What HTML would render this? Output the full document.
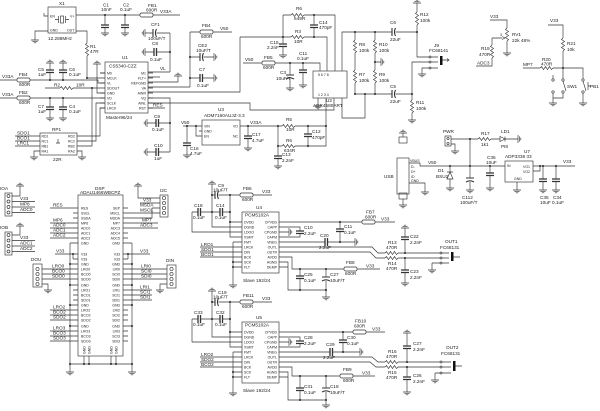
<!DOCTYPE html>
<html><head><meta charset="utf-8">
<style>
html,body{margin:0;padding:0;background:#fff;width:600px;height:411px;overflow:hidden}
svg{display:block}
text{font-family:"Liberation Sans",sans-serif;font-size:4.7px;fill:#222}
.s{font-size:3.5px}
.w{fill:none;stroke:#333;stroke-width:0.65}
</style></head><body>
<svg width="600" height="411" viewBox="0 0 600 411" xmlns="http://www.w3.org/2000/svg">
<defs>
<path id="gd" d="M-4,0H4M-2.6,1.4H2.6M-1.2,2.8H1.2"/>
<path id="gu" d="M-4,0H4M-2.6,-1.4H2.6M-1.2,-2.8H1.2"/>
<path id="gl" d="M0,-4V4M-1.4,-2.6V2.6M-2.8,-1.2V1.2"/>
<path id="gr" d="M0,-4V4M1.4,-2.6V2.6M2.8,-1.2V1.2"/>
<path id="rh" d="M0,0l1.5,-1.5l2,3l2,-3l2,3l2,-3l2,3l1.5,-1.5"/>
<path id="rv" d="M0,0l-1.5,1.5l3,2l-3,2l3,2l-3,2l3,2l-1.5,1.5"/>
<path id="cv" d="M-4,0H4M-4,2.5H4" stroke-width="1.3"/>
<path id="ch" d="M0,-4V4M2.5,-4V4" stroke-width="1.3"/>
<path id="ev" d="M-4,0H4M-4,4Q0,1.6 4,4" stroke-width="1.1"/>
<path id="eh" d="M0,-4V4M3.5,-4Q1.4,0 3.5,4" stroke-width="1.1"/>
<rect id="fb" x="0" y="-2" width="13" height="4" rx="1.5"/>
<circle id="d" r="1" fill="#222" stroke="none"/>
</defs>

<g class="w">
<!-- X1 -->
<rect x="48" y="7" width="28" height="26"/>
<rect x="60.5" y="16" width="3" height="7"/>
<path d="M58.5,16V23M65.5,16V23M55,19.5H58.5M65.5,19.5H69"/>
<path d="M44,13V16H48M48,31H35V40M76,15H140M153,15H180M105,15V25M105,27.5V33M125,15V25M125,27.5V33M76,31H87V43M87,56V78H105"/>
<use href="#gd" x="35" y="40"/><use href="#gd" x="105" y="33"/><use href="#gd" x="125" y="33"/>
<use href="#fb" x="140" y="15"/><use href="#rv" x="87" y="43"/><use href="#cv" x="105" y="25"/><use href="#cv" x="125" y="25"/>
<use href="#d" x="105" y="15"/><use href="#d" x="125" y="15"/>
<!-- CF1 C8 -->
<path d="M145,33H153M156.5,33H170M145,52H154M156.5,52H170M170,33V72M148,72H170"/>
<use href="#eh" x="153" y="33"/><use href="#gl" x="145" y="33"/><use href="#ch" x="154" y="52"/><use href="#gl" x="145" y="52"/><use href="#d" x="170" y="52"/>
<!-- U1 -->
<rect x="105" y="62" width="43" height="51"/>
<path d="M100,73H105M100,83H105M100,93H105M100,98H105M100,103H105M100,108H105M148,73H153M148,78H153M148,83H153M148,88H153M148,93H153M148,98H153M148,103H153M148,108H153"/>
<path d="M148,77H160M148,82H178V76M148,87H190M148,92H240V37M148,98H170V152M148,103H250V110H334V98M148,108H165"/>
<use href="#gu" x="178" y="76"/>
<path d="M147,123H156M158.5,123H170M147,152H156M158.5,152H170"/>
<use href="#ch" x="156" y="123"/><use href="#gl" x="147" y="123"/><use href="#ch" x="156" y="152"/><use href="#gl" x="147" y="152"/><use href="#d" x="170" y="123"/>
<path d="M190,32V87M190,32H200M213,32H232M190,57H200M203.5,57H214M190,78H200M202.5,78H214"/>
<use href="#fb" x="200" y="32"/><use href="#eh" x="200" y="57"/><use href="#gr" x="214" y="57"/><use href="#ch" x="200" y="78"/><use href="#gr" x="214" y="78"/>
<use href="#d" x="190" y="57"/><use href="#d" x="190" y="78"/>
<!-- left of U1 -->
<path d="M0,80H17M30,80H98V83H105M0,98H17M30,98H105M50,63V70M50,72.5V80M63,63V70M63,72.5V80M50,98V107M50,109.5V118M63,98V107M63,109.5V118M45,88H60M73,88H105M97,64V93H105M100,73H105M77,136H100V108H105M77,141H96V103H105M77,146H92V88"/>
<use href="#fb" x="17" y="80"/><use href="#fb" x="17" y="98"/>
<use href="#cv" x="50" y="70"/><use href="#cv" x="63" y="70"/><use href="#gu" x="50" y="63"/><use href="#gu" x="63" y="63"/>
<use href="#cv" x="50" y="107"/><use href="#cv" x="63" y="107"/><use href="#gd" x="50" y="118"/><use href="#gd" x="63" y="118"/>
<use href="#rh" x="60" y="88"/><use href="#gu" x="97" y="64"/>
<use href="#d" x="50" y="80"/><use href="#d" x="63" y="80"/><use href="#d" x="50" y="98"/><use href="#d" x="63" y="98"/><use href="#d" x="87" y="78"/><use href="#d" x="92" y="88"/>
<!-- RP1 -->
<rect x="40" y="133" width="37" height="22"/>
<path d="M15,136H40M15,141H40M15,146H40M40,151H34V157M77,151H82V157M58,139V143M56,143H60"/>
<use href="#gd" x="34" y="157"/><use href="#gd" x="82" y="157"/>

<!-- U2 region -->
<path d="M283,15H291M304,15H335V71M283,15V37M314,15V25M314,27.5V37M240,37H291M304,37H327V71M283,37V44M283,46.5V55"/>
<use href="#rh" x="291" y="15"/><use href="#rh" x="291" y="37"/><use href="#cv" x="314" y="25"/><use href="#cv" x="283" y="44"/><use href="#gd" x="283" y="55"/>
<use href="#d" x="283" y="37"/><use href="#d" x="314" y="37"/><use href="#d" x="314" y="15"/>
<path d="M243,63H262M275,63H320V71M290,63V75M290,79V88M303,63V70M303,72.5V85"/>
<use href="#fb" x="262" y="63"/><use href="#ev" x="290" y="75"/><use href="#gd" x="290" y="88"/><use href="#cv" x="303" y="70"/><use href="#gd" x="303" y="85"/>
<use href="#d" x="290" y="63"/><use href="#d" x="303" y="63"/>
<rect x="313" y="71" width="34" height="27"/>
<path d="M342,71V32H392M395.5,32H417M355,32V40M355,53V70M355,83V94M375,32V40M375,53V70M375,83V94M375,62H381M318,98V106M326,98V126M342,98V118H365V94M355,94H392M395.5,94H412"/>
<use href="#eh" x="392" y="32"/><use href="#eh" x="392" y="94"/>
<use href="#rv" x="355" y="40"/><use href="#rv" x="355" y="70"/><use href="#rv" x="375" y="40"/><use href="#rv" x="375" y="70"/>
<use href="#gr" x="381" y="62"/><use href="#gd" x="318" y="106"/>
<use href="#d" x="355" y="32"/><use href="#d" x="375" y="32"/><use href="#d" x="355" y="94"/><use href="#d" x="375" y="94"/><use href="#d" x="375" y="62"/><use href="#d" x="365" y="94"/>
<!-- R12 J9 R11 -->
<path d="M417,3V12M417,25V57H429M412,94V62H429M412,94V100M412,113V120M429,68H422V74"/>
<use href="#gu" x="417" y="3"/><use href="#rv" x="417" y="12"/><use href="#rv" x="412" y="100"/><use href="#gd" x="412" y="120"/><use href="#gd" x="422" y="74"/>
<use href="#d" x="417" y="32"/><use href="#d" x="412" y="94"/>
<circle cx="430" cy="57" r="1"/><circle cx="430" cy="62" r="1"/><circle cx="430" cy="68" r="1"/>
<path d="M431,57H438M431,62H438M431,68H438M442.5,60H449M447,58.5L449,60L447,61.5"/>
<!-- RV1 R19 -->
<path d="M490,20H507V28M507,41V53M492,38H502M502,36.5L505,38L502,39.5M492,38V45M492,58V66H476"/>
<use href="#rv" x="507" y="28"/><use href="#gd" x="507" y="53"/><use href="#rv" x="492" y="45"/>
<!-- R21 R20 SW1 PB1 -->
<path d="M548,25H563V38M563,51V78.8M523,68H540M553,68H583V78.8M553,93.2V103M583,93.2V103M563,93.2V98H553M563,81.2L566,91M583,81.2L586,91M588,82V90M588,86H591M553,78.8V75"/>
<use href="#rv" x="563" y="38"/><use href="#rh" x="540" y="68"/><use href="#gd" x="553" y="103"/><use href="#gd" x="583" y="103"/>
<circle cx="553" cy="80" r="1.2"/><circle cx="563" cy="80" r="1.2"/><circle cx="553" cy="92" r="1.2"/><circle cx="563" cy="92" r="1.2"/><circle cx="583" cy="80" r="1.2"/><circle cx="583" cy="92" r="1.2"/>
<use href="#d" x="563" y="68"/>

<!-- Power -->
<rect x="445" y="136" width="6" height="10"/><circle cx="448" cy="138.5" r="1.1"/><circle cx="448" cy="143.5" r="1.1"/>
<path d="M451,139H478M491,139H500M505,136.5V141.5M505,139H518M451,144H455V151M470,139V166M420,166H505"/>
<path d="M500,136.5L500,141.5L505,139Z"/>
<use href="#rh" x="478" y="139"/><use href="#gr" x="518" y="139"/><use href="#gd" x="455" y="151"/>
<use href="#d" x="470" y="139"/><use href="#d" x="450" y="166"/><use href="#d" x="470" y="166"/><use href="#d" x="490" y="166"/>
<path d="M450,166V172M447,172H453M447,179L453,179L450,172ZM450,179V188M470,166V178M470,182V190M490,166V173M490,175.5V188"/>
<use href="#gd" x="450" y="188"/><use href="#ev" x="470" y="178"/><use href="#gd" x="470" y="190"/><use href="#cv" x="490" y="173"/><use href="#gd" x="490" y="188"/>
<rect x="505" y="161" width="28" height="21"/>
<path d="M517,182V190M533,166H575M533,171H540V166M543,166V179M543,181.5V190M556,166V179M556,181.5V190"/>
<use href="#gd" x="517" y="190"/><use href="#cv" x="543" y="179"/><use href="#gd" x="543" y="190"/><use href="#cv" x="556" y="179"/><use href="#gd" x="556" y="190"/>
<use href="#d" x="543" y="166"/><use href="#d" x="556" y="166"/><use href="#d" x="540" y="166"/>
<!-- USB -->
<rect x="397" y="158" width="12" height="36"/>
<path d="M409,163H420V166M409,183H425V192M403,133V137M403,199V205"/>
<rect x="399" y="137" width="8" height="6"/><rect x="399" y="193" width="8" height="6"/>
<use href="#gd" x="425" y="192"/><use href="#gu" x="403" y="133"/><use href="#gd" x="403" y="205"/>
<!-- OUT1 -->
<path d="M405,228V237M405,239.5V253M400,253H440M400,258H440M405,258V270M405,272.5V283M432,263H440M432,263V270M442,253H449M442,258H449M442,263H449M453.5,257H460"/>
<use href="#gu" x="405" y="228"/><use href="#cv" x="405" y="237"/><use href="#cv" x="405" y="270"/><use href="#gd" x="405" y="283"/><use href="#gd" x="432" y="270"/>
<use href="#d" x="405" y="253"/><use href="#d" x="405" y="258"/>
<circle cx="441" cy="253" r="1"/><circle cx="441" cy="258" r="1"/><circle cx="441" cy="263" r="1"/>

<!-- U4 -->
<rect x="242" y="212" width="37" height="61"/>
<path d="M236,222H242M236,227H242M236,232H242M236,237H242M236,242H242M236,247H242M236,252H242M236,257H242M236,262H242M236,267H242M279,222H285M279,227H285M279,232H285M279,237H285M279,242H285M279,247H285M279,252H285M279,257H285M279,262H285M279,267H285"/>
<path d="M212,184V227H236M212,195H215M218.5,195H240M253,195H272M230,195V237H236M230,222H236M212,212H220M222.5,212H230M192,212V232H236M192,212H198M200.5,212H212M233,242H236M233,242V285M233,262H236M233,267H236M200,247H236M200,252H236M200,257H236"/>
<use href="#gu" x="212" y="184"/><use href="#eh" x="215" y="195"/><use href="#fb" x="240" y="195"/><use href="#ch" x="220" y="212"/><use href="#ch" x="198" y="212"/><use href="#gd" x="233" y="285"/>
<use href="#d" x="230" y="195"/><use href="#d" x="212" y="195"/><use href="#d" x="212" y="212"/><use href="#d" x="230" y="212"/><use href="#d" x="230" y="222"/><use href="#d" x="233" y="262"/><use href="#d" x="233" y="267"/>
<path d="M285,222H362M375,222H395M340,222V229M340,231.5V242M285,227H300V231M300,233.5V237H285M285,232H289M285,242H325M327.5,242H355M285,247H372L378,253H385M398,253H400M285,252H370L376,258H385M398,258H400M285,257H292V269H344M357,269H380M285,262H288V290H326M285,267H288M300,269V276M300,278.5V290M326,269V277M326,281V297"/>
<use href="#fb" x="362" y="222"/><use href="#cv" x="340" y="229"/><use href="#cv" x="300" y="231"/><use href="#gr" x="289" y="232"/><use href="#ch" x="325" y="242"/><use href="#gr" x="355" y="242"/>
<use href="#rh" x="385" y="253"/><use href="#rh" x="385" y="258"/><use href="#fb" x="344" y="269"/><use href="#cv" x="300" y="276"/><use href="#ev" x="326" y="277"/><use href="#gd" x="326" y="297"/>
<use href="#d" x="340" y="222"/><use href="#d" x="340" y="242"/><use href="#d" x="300" y="269"/><use href="#d" x="326" y="269"/><use href="#d" x="300" y="290"/><use href="#d" x="326" y="290"/>

<!-- U5 -->
<rect x="242" y="322" width="37" height="61"/>
<path d="M236,332H242M236,337H242M236,342H242M236,347H242M236,352H242M236,357H242M236,362H242M236,367H242M236,372H242M236,377H242M279,332H285M279,337H285M279,342H285M279,347H285M279,352H285M279,357H285M279,362H285M279,367H285M279,372H285M279,377H285"/>
<path d="M212,291V337H236M212,302H215M218.5,302H240M253,302H272M230,302V347H236M230,332H236M212,319H220M222.5,319H230M192,319V342H236M192,319H198M200.5,319H212M233,352H236M233,352V393M233,372H236M233,377H236M200,357H236M200,362H236M200,367H236"/>
<use href="#gu" x="212" y="291"/><use href="#eh" x="215" y="302"/><use href="#fb" x="240" y="302"/><use href="#ch" x="220" y="319"/><use href="#ch" x="198" y="319"/><use href="#gd" x="233" y="393"/>
<use href="#d" x="230" y="302"/><use href="#d" x="212" y="302"/><use href="#d" x="212" y="319"/><use href="#d" x="230" y="319"/><use href="#d" x="230" y="332"/><use href="#d" x="233" y="372"/><use href="#d" x="233" y="377"/>
<path d="M285,332H353M366,332H385M343,332V340M343,342.5V352M285,337H300V341M300,343.5V347H285M285,342H289M285,352H330M332.5,352H360M285,357H372L378,362H385M398,362H440M285,362H370L376,367H385M398,367H440M285,367H292V376H340M353,376H375M285,372H288V400H326M285,377H288M300,376V388M300,390.5V400M326,376V388M326,392V405"/>
<use href="#fb" x="353" y="332"/><use href="#cv" x="343" y="340"/><use href="#cv" x="300" y="341"/><use href="#gr" x="289" y="342"/><use href="#ch" x="330" y="352"/><use href="#gr" x="360" y="352"/>
<use href="#rh" x="385" y="362"/><use href="#rh" x="385" y="367"/><use href="#fb" x="340" y="376"/><use href="#cv" x="300" y="388"/><use href="#ev" x="326" y="388"/><use href="#gd" x="326" y="405"/>
<use href="#d" x="343" y="332"/><use href="#d" x="343" y="352"/><use href="#d" x="300" y="376"/><use href="#d" x="326" y="376"/><use href="#d" x="300" y="400"/><use href="#d" x="326" y="400"/>
<!-- OUT2 -->
<path d="M407,333V346M407,348.5V362M407,367V377M407,379.5V392M435,373H440M435,373V380M442,362H451M442,367H451M442,373H451M455.5,366H462"/>
<use href="#gu" x="407" y="333"/><use href="#cv" x="407" y="346"/><use href="#cv" x="407" y="377"/><use href="#gd" x="407" y="392"/><use href="#gd" x="435" y="380"/>
<use href="#d" x="407" y="362"/><use href="#d" x="407" y="367"/>
<circle cx="441" cy="362" r="1"/><circle cx="441" cy="367" r="1"/><circle cx="441" cy="373" r="1"/>

<!-- U3 -->
<rect x="202" y="120" width="38" height="25"/>
<path d="M183,126H202M187,126V143M187,145.5V155M196,126V136H202M199,131H202M240,126H282M295,126H326M248,126V136M248,138.5V148M308,126V134M308,136.5V146M278,126V156M278,158.5V166M278,146H282M295,146H326V126"/>
<use href="#cv" x="187" y="143"/><use href="#gd" x="187" y="155"/><use href="#rh" x="282" y="126"/><use href="#cv" x="248" y="136"/><use href="#gd" x="248" y="148"/>
<use href="#cv" x="308" y="134"/><use href="#cv" x="278" y="156"/><use href="#gd" x="278" y="166"/><use href="#rh" x="282" y="146"/>
<use href="#d" x="187" y="126"/><use href="#d" x="196" y="126"/><use href="#d" x="248" y="126"/><use href="#d" x="308" y="126"/><use href="#d" x="278" y="126"/><use href="#d" x="278" y="146"/><use href="#d" x="308" y="146"/><use href="#d" x="326" y="126"/>

<!-- DSP -->
<rect x="78" y="195" width="45" height="161"/>
<path d="M73,208H78M73,213H78M73,218H78M73,223H78M73,228H78M73,233H78M73,238H78M70,243H78M73,254H78M73,259H78M70,264H78M73,269H78M73,274H78M73,279H78M70,285H78M73,290H78M73,295H78M73,300H78M70,305H78M73,310H78M73,315H78M73,320H78M70,326H78M73,331H78M73,336H78M73,341H78"/>
<path d="M123,208H128M123,213H128M123,218H128M123,223H128M123,228H128M123,233H128M123,238H128M123,243H132M123,254H128M123,259H128M123,264H132M123,269H128M123,274H128M123,279H128M123,285H132M123,290H128M123,295H128M123,300H128M123,305H132M123,310H128M123,315H128M123,320H128M123,326H132M123,331H128M123,336H128M123,341H128"/>
<path d="M70,243V372M132,243V372M84,356V364M89,356V364M111,356V364M116,356V364M70,364H132M55,254H73M73,254V259M128,254H150M128,254V259"/>
<use href="#gd" x="70" y="372"/><use href="#gd" x="132" y="372"/>
<use href="#d" x="70" y="264"/><use href="#d" x="70" y="285"/><use href="#d" x="70" y="305"/><use href="#d" x="70" y="326"/><use href="#d" x="70" y="364"/><use href="#d" x="84" y="364"/><use href="#d" x="89" y="364"/><use href="#d" x="111" y="364"/><use href="#d" x="116" y="364"/><use href="#d" x="132" y="364"/>
<use href="#d" x="132" y="264"/><use href="#d" x="132" y="285"/><use href="#d" x="132" y="305"/><use href="#d" x="132" y="326"/><use href="#d" x="73" y="254"/><use href="#d" x="128" y="254"/>
<path d="M50,208H73M50,223H73M50,228H73M50,233H73M50,238H73M50,310H73M50,315H73M50,320H73M50,331H73M50,336H73M50,341H73M42,269H73M42,274H73M42,279H73M42,284H48V290"/>
<use href="#gd" x="48" y="290"/>
<rect x="33" y="264" width="9" height="23"/><circle cx="37.5" cy="269" r="1.6"/><circle cx="37.5" cy="274" r="1.6"/><circle cx="37.5" cy="279" r="1.6"/><circle cx="37.5" cy="284" r="1.6"/>
<!-- I2C -->
<rect x="160" y="195" width="8" height="22"/><circle cx="164" cy="198" r="1.6"/><circle cx="164" cy="203" r="1.6"/><circle cx="164" cy="208" r="1.6"/><circle cx="164" cy="213" r="1.6"/>
<path d="M138,186V198H160M140,203H160M128,218H152V208H160M128,213H160M128,223H158M128,228H158"/>
<use href="#gu" x="138" y="186"/>
<!-- DIN -->
<rect x="167" y="265" width="9" height="23"/><circle cx="171.5" cy="269" r="1.6"/><circle cx="171.5" cy="274" r="1.6"/><circle cx="171.5" cy="279" r="1.6"/><circle cx="171.5" cy="284" r="1.6"/>
<path d="M128,269H167M128,274H167M128,279H167M167,284H160V290M128,290H152M128,295H152M128,300H152"/>
<use href="#gd" x="160" y="290"/>
<!-- IOA IOB -->
<rect x="5" y="193" width="7" height="23"/><circle cx="8.5" cy="196" r="1.5"/><circle cx="8.5" cy="201.5" r="1.5"/><circle cx="8.5" cy="207" r="1.5"/><circle cx="8.5" cy="212.5" r="1.5"/>
<path d="M20,186V196H12M12,201.5H35M12,207H35M12,212.5H35"/>
<use href="#gu" x="20" y="186"/>
<rect x="5" y="232" width="7" height="23"/><circle cx="8.5" cy="235" r="1.5"/><circle cx="8.5" cy="240.5" r="1.5"/><circle cx="8.5" cy="246" r="1.5"/><circle cx="8.5" cy="251.5" r="1.5"/>
<path d="M20,226V235H12M12,240.5H35M12,246H35M12,251.5H35"/>
<use href="#gu" x="20" y="226"/>
</g>
<g fill="#111"><rect x="440" y="56" width="2.5" height="9"/><rect x="451" y="252" width="2.5" height="9"/><rect x="453" y="361" width="2.5" height="10"/></g>

<g>
<text x="59" y="5">X1</text><text x="50" y="17.5" class="s">EN</text><text x="70" y="17.5" class="s">V+</text><text x="50" y="31.5" class="s">GND</text><text x="67" y="31.5" class="s">OUT</text>
<text x="48" y="40">12.288MHz</text><text x="103" y="6.5">C1</text><text x="101" y="11">10nF</text><text x="123" y="6.5">C2</text><text x="120" y="11">0.1uF</text>
<text x="148" y="7">FB1</text><text x="146" y="11.5">600R</text><text x="160" y="13">V33A</text><text x="90" y="48">R1</text><text x="90" y="53">47R</text>
<text x="151" y="26">CF1</text><text x="148" y="40">100uF/T</text><text x="152" y="45">C8</text><text x="150" y="61">0.1uF</text><text x="160" y="70">VL</text>
<text x="122" y="59">U1</text><text x="109" y="67.5">CS5340-CZZ</text>
<text x="107" y="74.5" class="s">M0</text><text x="107" y="79.5" class="s">MCLK</text><text x="107" y="84.5" class="s">VL</text><text x="107" y="89.5" class="s">SDOUT</text><text x="107" y="94.5" class="s">GND</text><text x="107" y="99.5" class="s">VD</text><text x="107" y="104.5" class="s">SCLK</text><text x="107" y="109.5" class="s">LRCK</text>
<g text-anchor="end"><text x="146" y="74.5" class="s">M1</text><text x="146" y="79.5" class="s">FLT+</text><text x="146" y="84.5" class="s">REFGND</text><text x="146" y="89.5" class="s">VA</text><text x="146" y="94.5" class="s">AINR</text><text x="146" y="99.5" class="s">VQ</text><text x="146" y="104.5" class="s">AINL</text><text x="146" y="109.5" class="s">RST</text></g>
<text x="106" y="119">Master96/24</text><text x="153" y="106.5">RES</text>
<text x="154" y="118">C9</text><text x="152" y="131">0.1uF</text><text x="154" y="147">C10</text><text x="154" y="160">1uF</text>
<text x="202" y="27">FB4</text><text x="201" y="38">600R</text><text x="220" y="30">V50</text><text x="198" y="47">CE2</text><text x="196" y="52">10uF/T</text><text x="199" y="71">C7</text><text x="197" y="87">0.1uF</text>
<text x="2" y="78">V33A</text><text x="19" y="76">FB4</text><text x="19" y="86">600R</text><text x="2" y="96">V33A</text><text x="19" y="94">FB2</text><text x="19" y="104">600R</text>
<text x="38" y="71">C5</text><text x="38" y="76">1uF</text><text x="69" y="71">C6</text><text x="69" y="76">0.1uF</text><text x="38" y="108">C7</text><text x="38" y="113">1uF</text><text x="69" y="108">C4</text><text x="69" y="113">0.1uF</text>
<text x="54" y="86.5">R2</text><text x="76" y="86.5">10R</text>
<text x="52" y="131">RP1</text><text x="53" y="161">22R</text><text x="17" y="134.5">SDO1</text><text x="17" y="139.5">BCO1</text><text x="17" y="144.5">LRC1</text>
<text x="41.5" y="137.5" class="s">RD1</text><text x="41.5" y="142.5" class="s">RC1</text><text x="41.5" y="147.5" class="s">RB1</text><text x="41.5" y="152.5" class="s">RA1</text>
<text x="68" y="137.5" class="s">RD2</text><text x="68" y="142.5" class="s">RC2</text><text x="68" y="147.5" class="s">RB2</text><text x="68" y="152.5" class="s">RA2</text>

<text x="296" y="10">R6</text><text x="294" y="20">649R</text><text x="319" y="24">C14</text><text x="319" y="29">470pF</text><text x="295" y="33">R3</text><text x="294" y="43">10R</text>
<text x="270" y="44">C15</text><text x="267" y="49">2.2nF</text><text x="245" y="61">V50</text><text x="264" y="59">FB5</text><text x="263" y="69">600R</text>
<text x="280" y="74">C3</text><text x="276" y="80">10uF/T</text><text x="299" y="55">C11</text><text x="297" y="60">0.1uF</text>
<text x="318" y="76" class="s">5  6  7  8</text><text x="318" y="96" class="s">1  2  3  4</text>
<text x="326" y="102">U2</text><text x="313" y="107">ADR4580ART</text>
<text x="359" y="46">R8</text><text x="359" y="52">100k</text><text x="379" y="46">R10</text><text x="379" y="52">100k</text><text x="359" y="76">R7</text><text x="359" y="82">100k</text><text x="379" y="76">R9</text><text x="379" y="82">100k</text>
<text x="390" y="24">C6</text><text x="390" y="41">22uF</text><text x="390" y="88">C5</text><text x="390" y="103">22uF</text>
<text x="420" y="16">R12</text><text x="420" y="22">100k</text><text x="434" y="47">J9</text><text x="429" y="52">FC68141</text><text x="416" y="104">R11</text><text x="416" y="110">100k</text>
<text x="490" y="18">V33</text><text x="512" y="36">RV1</text><text x="512" y="42">22k 48%</text><text x="500" y="36" class="s">3</text><text x="481" y="50">R19</text><text x="479" y="56">470R</text><text x="477" y="64.5">ADC3</text>
<text x="550" y="22">V33</text><text x="567" y="45">R21</text><text x="567" y="51">10k</text><text x="523" y="66">MP7</text><text x="542" y="61">R20</text><text x="541" y="65.5">470R</text><text x="567" y="88">SW1</text><text x="590" y="88">PB1</text>

<text x="443" y="133">PWR</text><text x="481" y="135">R17</text><text x="481" y="146">1k1</text><text x="501" y="133">LD1</text><text x="501" y="148">PI8</text>
<text x="428" y="164">V50</text><text x="438" y="172">D1</text><text x="436" y="178">BSU2</text><text x="462" y="199">C112</text><text x="460" y="204">100uF/T</text><text x="487" y="159">C36</text><text x="486" y="164">10uF</text>
<text x="524" y="153">U7</text><text x="505" y="158">ADP3338 33</text><text x="507" y="167" class="s">IN</text><text x="523" y="168" class="s">VO1</text><text x="523" y="173" class="s">VO2</text><text x="514" y="180" class="s">GND</text>
<text x="563" y="163">V33</text><text x="540" y="199">C35</text><text x="540" y="204">10uF</text><text x="553" y="199">C34</text><text x="552" y="204">0.1uF</text>
<text x="384" y="178">USB</text><text x="410" y="162" class="s">VBUS</text><text x="411" y="168" class="s">D-</text><text x="411" y="173" class="s">D+</text><text x="411" y="178" class="s">ID</text><text x="411" y="182" class="s">GND</text>
<text x="410" y="238">C22</text><text x="410" y="244">2.2nF</text><text x="445" y="243">OUT1</text><text x="440" y="249">FC68131</text><text x="410" y="273">C23</text><text x="410" y="279">2.2nF</text>

<text x="256" y="209">U4</text><text x="245" y="216.5">PCM5102A</text><text x="243" y="282">Slave 192/24</text>
<g><text x="244" y="223.5" class="s">DVDD</text><text x="244" y="228.5" class="s">DGND</text><text x="244" y="233.5" class="s">LDOO</text><text x="244" y="238.5" class="s">XSMT</text><text x="244" y="243.5" class="s">FMT</text><text x="244" y="248.5" class="s">LRCK</text><text x="244" y="253.5" class="s">DIN</text><text x="244" y="258.5" class="s">BCK</text><text x="244" y="263.5" class="s">SCK</text><text x="244" y="268.5" class="s">FLT</text></g>
<g text-anchor="end"><text x="277" y="223.5" class="s">CPVDD</text><text x="277" y="228.5" class="s">CAPP</text><text x="277" y="233.5" class="s">CPGND</text><text x="277" y="238.5" class="s">CAPM</text><text x="277" y="243.5" class="s">VNEG</text><text x="277" y="248.5" class="s">OUTL</text><text x="277" y="253.5" class="s">OUTR</text><text x="277" y="258.5" class="s">AVDD</text><text x="277" y="263.5" class="s">AGND</text><text x="277" y="268.5" class="s">DEMP</text></g>
<text x="218" y="187">C9</text><text x="213" y="191.5">10uF/T</text><text x="243" y="190">FB6</text><text x="242" y="201">600R</text><text x="262" y="193">V33</text>
<text x="216" y="207">C14</text><text x="215" y="219">0.1uF</text><text x="194" y="207">C18</text><text x="193" y="219">0.1uF</text>
<text x="201" y="246">LRO1</text><text x="201" y="251">SDO1</text><text x="201" y="256">BCO1</text>
<text x="366" y="213.5">FB7</text><text x="365" y="218.5">600R</text><text x="381" y="220.5">V33</text><text x="304" y="229">C10</text><text x="304" y="235">2.2uF</text>
<text x="344" y="228">C11</text><text x="344" y="234">0.1uF</text><text x="320" y="237">C20</text><text x="319" y="249">2.2uF</text>
<text x="388" y="244">R13</text><text x="386" y="249">470R</text><text x="388" y="265">R14</text><text x="386" y="270">470R</text>
<text x="346" y="264">FB8</text><text x="345" y="275">600R</text><text x="366" y="267.5">V33</text><text x="304" y="276">C25</text><text x="304" y="282">0.1uF</text><text x="330" y="276">C27</text><text x="330" y="282">10uF/T</text>

<text x="256" y="319">U5</text><text x="245" y="326.5">PCM5102A</text><text x="243" y="392">Slave 192/24</text>
<g><text x="244" y="333.5" class="s">DVDD</text><text x="244" y="338.5" class="s">DGND</text><text x="244" y="343.5" class="s">LDOO</text><text x="244" y="348.5" class="s">XSMT</text><text x="244" y="353.5" class="s">FMT</text><text x="244" y="358.5" class="s">LRCK</text><text x="244" y="363.5" class="s">DIN</text><text x="244" y="368.5" class="s">BCK</text><text x="244" y="373.5" class="s">SCK</text><text x="244" y="378.5" class="s">FLT</text></g>
<g text-anchor="end"><text x="277" y="333.5" class="s">CPVDD</text><text x="277" y="338.5" class="s">CAPP</text><text x="277" y="343.5" class="s">CPGND</text><text x="277" y="348.5" class="s">CAPM</text><text x="277" y="353.5" class="s">VNEG</text><text x="277" y="358.5" class="s">OUTL</text><text x="277" y="363.5" class="s">OUTR</text><text x="277" y="368.5" class="s">AVDD</text><text x="277" y="373.5" class="s">AGND</text><text x="277" y="378.5" class="s">DEMP</text></g>
<text x="218" y="294">C19</text><text x="213" y="298.5">10uF/T</text><text x="243" y="297">FB11</text><text x="242" y="308">600R</text><text x="262" y="300">V33</text>
<text x="216" y="314">C32</text><text x="215" y="326">0.1uF</text><text x="194" y="314">C33</text><text x="193" y="326">0.1uF</text>
<text x="201" y="356">LRO2</text><text x="201" y="361">SDO2</text><text x="201" y="366">BCO2</text>
<text x="355" y="322.5">FB10</text><text x="354" y="327.5">600R</text><text x="372" y="330.5">V33</text><text x="304" y="339">C28</text><text x="304" y="345">2.2uF</text>
<text x="347" y="339">C30</text><text x="347" y="345">0.1uF</text><text x="326" y="346">C29</text><text x="323" y="359">2.2uF</text>
<text x="388" y="353">R16</text><text x="386" y="358">470R</text><text x="388" y="374">R15</text><text x="386" y="379">470R</text>
<text x="343" y="371">FB9</text><text x="343" y="382">600R</text><text x="362" y="374.5">V33</text><text x="304" y="388">C31</text><text x="304" y="394">0.1uF</text><text x="330" y="388">C18</text><text x="330" y="394">10uF/T</text>
<text x="413" y="345">C27</text><text x="413" y="351">2.2nF</text><text x="446" y="349">OUT2</text><text x="441" y="355">FC68131</text><text x="413" y="377">C26</text><text x="413" y="383">2.2nF</text>

<text x="218" y="111">U3</text><text x="204" y="117">ADM7160AUJZ-3.3</text>
<text x="204" y="127.5" class="s">VIN</text><text x="204" y="132.5" class="s">GND</text><text x="204" y="137.5" class="s">EN</text><text x="238" y="127.5" class="s" text-anchor="end">VO</text><text x="238" y="137.5" class="s" text-anchor="end">NC</text>
<text x="181" y="124">V50</text><text x="190" y="150">C16</text><text x="190" y="155">4.7uF</text><text x="250" y="124">V33A</text><text x="252" y="136">C17</text><text x="252" y="142">4.7uF</text>
<text x="286" y="121">R5</text><text x="286" y="131">10R</text><text x="312" y="133">C12</text><text x="312" y="139">470pF</text><text x="286" y="142">R6</text><text x="284" y="152">634R</text><text x="282" y="156">C13</text><text x="282" y="162">2.2nF</text>

<text x="95" y="190">DSP</text><text x="80" y="194">ADAU1466WBCPZ</text>
<g><text x="81" y="209.5" class="s">RES</text><text x="81" y="214.5" class="s">SSCL</text><text x="81" y="219.5" class="s">SSDA</text><text x="81" y="224.5" class="s">MP6</text><text x="81" y="229.5" class="s">ADC0</text><text x="81" y="234.5" class="s">ADC1</text><text x="81" y="239.5" class="s">ADC2</text><text x="81" y="244.5" class="s">GND</text>
<text x="81" y="255.5" class="s">V33</text><text x="81" y="260.5" class="s">V33</text><text x="81" y="265.5" class="s">GND</text><text x="81" y="270.5" class="s">LRO0</text><text x="81" y="275.5" class="s">BCO0</text><text x="81" y="280.5" class="s">SDO0</text><text x="81" y="286.5" class="s">GND</text><text x="81" y="291.5" class="s">LRO1</text><text x="81" y="296.5" class="s">BCO1</text><text x="81" y="301.5" class="s">SDO1</text><text x="81" y="306.5" class="s">GND</text><text x="81" y="311.5" class="s">LRO2</text><text x="81" y="316.5" class="s">BCO2</text><text x="81" y="321.5" class="s">SDO2</text><text x="81" y="327.5" class="s">GND</text><text x="81" y="332.5" class="s">LRO3</text><text x="81" y="337.5" class="s">BCO3</text><text x="81" y="342.5" class="s">SDO3</text></g>
<g text-anchor="end"><text x="120" y="209.5" class="s">SEP</text><text x="120" y="214.5" class="s">MSCL</text><text x="120" y="219.5" class="s">MSDA</text><text x="120" y="224.5" class="s">MP7</text><text x="120" y="229.5" class="s">ADC3</text><text x="120" y="234.5" class="s">ADC4</text><text x="120" y="239.5" class="s">ADC5</text><text x="120" y="244.5" class="s">GND</text>
<text x="120" y="255.5" class="s">V33</text><text x="120" y="260.5" class="s">V33</text><text x="120" y="265.5" class="s">GND</text><text x="120" y="270.5" class="s">LRI0</text><text x="120" y="275.5" class="s">SCI0</text><text x="120" y="280.5" class="s">SDI0</text><text x="120" y="286.5" class="s">GND</text><text x="120" y="291.5" class="s">LRI1</text><text x="120" y="296.5" class="s">SCI1</text><text x="120" y="301.5" class="s">SDI1</text><text x="120" y="306.5" class="s">GND</text><text x="120" y="311.5" class="s">LRI2</text><text x="120" y="316.5" class="s">SCI2</text><text x="120" y="321.5" class="s">SDI2</text><text x="120" y="327.5" class="s">GND</text><text x="120" y="332.5" class="s">LRI3</text><text x="120" y="337.5" class="s">SCI3</text><text x="120" y="342.5" class="s">SDI3</text></g>
<text class="s" transform="translate(85.5,354) rotate(-90)">GND</text><text class="s" transform="translate(90.5,354) rotate(-90)">GND</text><text class="s" transform="translate(112.5,354) rotate(-90)">GND</text><text class="s" transform="translate(117.5,354) rotate(-90)">GND</text>
<text x="53" y="206.5">RES</text><text x="53" y="221.5">MP6</text><text x="53" y="226.5">ADC0</text><text x="53" y="231.5">ADC1</text><text x="53" y="236.5">ADC2</text>
<text x="56" y="252.5">V33</text><text x="140" y="252.5">V33</text>
<text x="52" y="267.5">LRO0</text><text x="52" y="272.5">BCO0</text><text x="52" y="277.5">SDO0</text><text x="31" y="261">DOU</text>
<text x="53" y="308.5">LRO2</text><text x="53" y="313.5">BCO2</text><text x="53" y="318.5">SDO2</text><text x="53" y="329.5">LRO3</text><text x="53" y="334.5">BCO3</text><text x="53" y="339.5">SDO3</text>
<text x="160" y="192">I2C</text><text x="143" y="201.5">V33</text><text x="140" y="206.5">MSDA</text><text x="140" y="211.5">MSCL</text><text x="142" y="221.5">MP7</text><text x="140" y="226.5">ADC3</text>
<text x="166" y="262">DIN</text><text x="141" y="267.5">LRI0</text><text x="141" y="272.5">SCI0</text><text x="141" y="277.5">SDI0</text><text x="140" y="288.5">LRI1</text><text x="140" y="293.5">SCI1</text><text x="140" y="298.5">SDI1</text>
<text x="0" y="190">IOA</text><text x="20" y="200">V33</text><text x="20" y="205.5">MP8</text><text x="20" y="211">ADC0</text>
<text x="0" y="229">IOB</text><text x="20" y="239">V33</text><text x="20" y="244.5">ADC1</text><text x="20" y="250">ADC2</text>
</g>
</svg>
</body></html>
